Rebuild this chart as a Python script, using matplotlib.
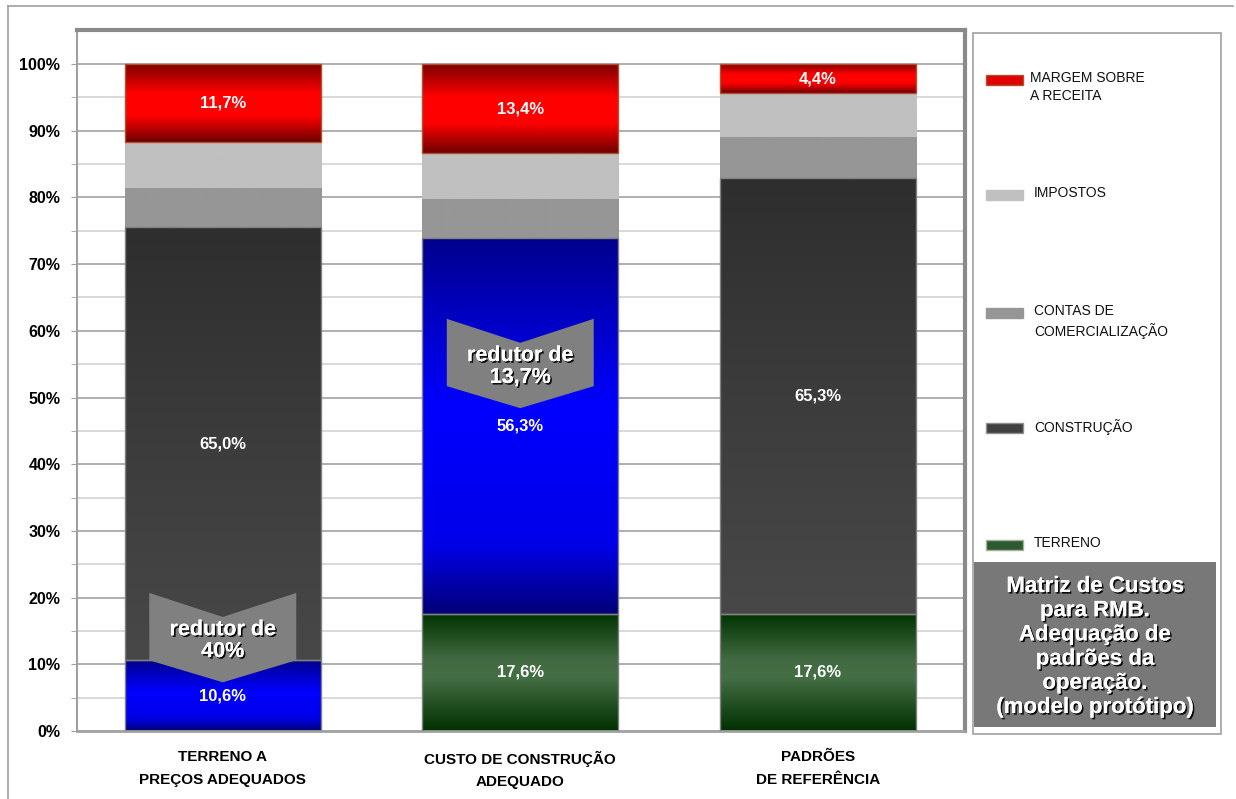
import numpy as np
import matplotlib
matplotlib.use("Agg")
import matplotlib.pyplot as plt
from matplotlib.colors import to_rgb
from matplotlib.patches import Rectangle, Polygon
from matplotlib.lines import Line2D
import matplotlib.patheffects as pe

plt.rcParams['font.family'] = ['Liberation Sans', 'DejaVu Sans']

# ---------------- data ----------------
categories = ["TERRENO A\nPREÇOS ADEQUADOS",
              "CUSTO DE CONSTRUÇÃO\nADEQUADO",
              "PADRÕES\nDE REFERÊNCIA"]
series_names = ["TERRENO", "CONSTRUÇÃO", "CONTAS DE\nCOMERCIALIZAÇÃO",
                "IMPOSTOS", "MARGEM SOBRE\nA RECEITA"]
terreno = [10.6, 17.6, 17.6]
construcao = [65.0, 56.3, 65.3]
contas = [5.8, 5.9, 6.2]
impostos = [6.9, 6.8, 6.5]
margem = [11.7, 13.4, 4.4]
series_values = [terreno, construcao, contas, impostos, margem]
show_label = [True, True, False, False, True]
reducer_labels = ["redutor de\n40%", "redutor de\n13,7%", None]
box_text = "Matriz de Custos\npara RMB.\nAdequação de\npadrões da\noperação.\n(modelo protótipo)"

# ---------------- styles ----------------
RED = [(0, '#6e0000'), (0.33, '#ff0000'), (0.62, '#ff0000'), (1, '#7a0000')]
BLUE = [(0, '#000078'), (0.18, '#0000e8'), (0.55, '#0000ff'), (1, '#00008e')]
GREEN = [(0, '#003000'), (0.45, '#446e44'), (0.6, '#436b43'), (1, '#003300')]
DARK = [(0, '#484848'), (0.5, '#3c3c3c'), (1, '#2e2e2e')]
LIGHT = [(0, '#c0c0c0'), (1, '#c0c0c0')]
MID = [(0, '#969696'), (1, '#969696')]
cell_style = [
    [BLUE, DARK, MID, LIGHT, RED],
    [GREEN, BLUE, MID, LIGHT, RED],
    [GREEN, DARK, MID, LIGHT, RED],
]
edge_cols = ['#808080', '#808080', 'none', 'none', '#b05030']
reducer_anchor = [10.6, 51.7, None]


def gradient(stops, n=256):
    pos = np.array([s[0] for s in stops])
    cols = np.array([to_rgb(s[1]) for s in stops])
    t = np.linspace(0, 1, n)
    arr = np.stack([np.interp(t, pos, cols[:, k]) for k in range(3)], axis=1)
    return arr[:, None, :]


W, H = 1236, 799
fig = plt.figure(figsize=(W / 100, H / 100), dpi=100)


def fx(px):
    return px / W


def fy(py):
    return 1 - py / H


fig.add_artist(Line2D([fx(8), fx(1233)], [fy(6), fy(6)], color='#a0a0a0', lw=1.2))
fig.add_artist(Line2D([fx(8), fx(8)], [fy(6), fy(799)], color='#a0a0a0', lw=1.2))

ax = fig.add_axes([fx(77), fy(731), fx(965) - fx(77), fy(30) - fy(731)])
x = np.arange(len(categories))
width = 0.66
ylim_top = 105.1

for v in np.arange(5, 101, 5):
    major = (v % 10 == 0)
    ax.axhline(v, color='#9a9a9a' if major else '#cfcfcf', lw=1.1, zorder=0.5)

bottoms = np.zeros(len(categories))
for si, vals in enumerate(series_values):
    vals = np.array(vals)
    bars = ax.bar(x, vals, width, bottom=bottoms, color='none',
                  edgecolor=edge_cols[si], linewidth=1.0, zorder=3)
    for bi, b in enumerate(bars):
        x0, y0 = b.get_x(), b.get_y()
        img = ax.imshow(gradient(cell_style[bi][si]), origin='lower', aspect='auto',
                        extent=[x0, x0 + b.get_width(), y0, y0 + b.get_height()],
                        interpolation='bilinear', zorder=2)
        img.set_clip_path(b)
        if show_label[si]:
            ax.text(x[bi], y0 + b.get_height() / 2,
                    f"{vals[bi]:.1f}%".replace('.', ','),
                    ha='center', va='center', color='white', fontsize=12,
                    fontweight='bold', zorder=6)
    bottoms = bottoms + vals

shadow = [pe.withSimplePatchShadow(offset=(1.2, -1.2), shadow_rgbFace='black', alpha=0.9),
          pe.Normal()]
for bi, lab in enumerate(reducer_labels):
    if lab is None:
        continue
    base = reducer_anchor[bi]
    cx = x[bi]
    hw = 0.247
    top = base + 10.1
    notch = base + 6.5
    tip = base - 3.3
    poly = Polygon([(cx - hw, top), (cx, notch), (cx + hw, top), (cx + hw, base),
                    (cx, tip), (cx - hw, base)], closed=True,
                   facecolor='#808080', edgecolor='none', zorder=5)
    ax.add_patch(poly)
    ax.text(cx, base + 2.95, lab, ha='center', va='center', color='white',
            fontsize=15.5, fontweight='bold', linespacing=1.05, zorder=7,
            path_effects=shadow)

ax.set_xlim(-0.49, 2.495)
ax.set_ylim(0, ylim_top)
ax.set_yticks(np.arange(0, 101, 10))
ax.set_yticklabels([f"{v}%" for v in range(0, 101, 10)], fontsize=11.5, fontweight='bold')
ax.set_yticks(np.arange(5, 100, 10), minor=True)
ax.tick_params(axis='y', which='both', length=4, color='#a0a0a0', pad=8)
ax.set_xticks(x)
ax.set_xticklabels(categories, fontsize=11, fontweight='bold', linespacing=1.75)
ax.tick_params(axis='x', length=0, pad=14)

ax.spines['top'].set_color('#8a8a8a')
ax.spines['top'].set_linewidth(3)
ax.spines['right'].set_color('#8a8a8a')
ax.spines['right'].set_linewidth(3)
ax.spines['left'].set_color('#a0a0a0')
ax.spines['left'].set_linewidth(1.5)
ax.spines['bottom'].set_color('#a0a0a0')
ax.spines['bottom'].set_linewidth(2)

fig.add_artist(Rectangle((fx(973), fy(734)), fx(1221) - fx(973), fy(33) - fy(734),
                         facecolor='white', edgecolor='#a0a0a0', lw=1.2))
legend_y = [545, 428, 313, 195, 80]
legend_face = ['#2f5a2f', '#404040', '#969696', '#c0c0c0', '#e00000']
legend_edge = ['#a0b0a0', '#909090', '#969696', '#c0c0c0', '#b05030']
for si, name in enumerate(series_names):
    yy = legend_y[si]
    fig.add_artist(Rectangle((fx(986), fy(yy + 5)), fx(1023) - fx(986), fy(yy - 5) - fy(yy + 5),
                             facecolor=legend_face[si], edgecolor=legend_edge[si], lw=1))
    tx = 1030 if si == 4 else 1034
    fig.text(fx(tx), fy(yy - 9), name, ha='left', va='top', fontsize=10,
             color='#111111', linespacing=1.35)

fig.add_artist(Rectangle((fx(974), fy(727)), fx(1216) - fx(974), fy(562) - fy(727),
                         facecolor='#787878', edgecolor='none'))
fig.text(fx(1095), fy(647), box_text, ha='center', va='center', color='white',
         fontsize=16, fontweight='bold', linespacing=1.2, path_effects=shadow)

fig.savefig("out.png", dpi=100)
